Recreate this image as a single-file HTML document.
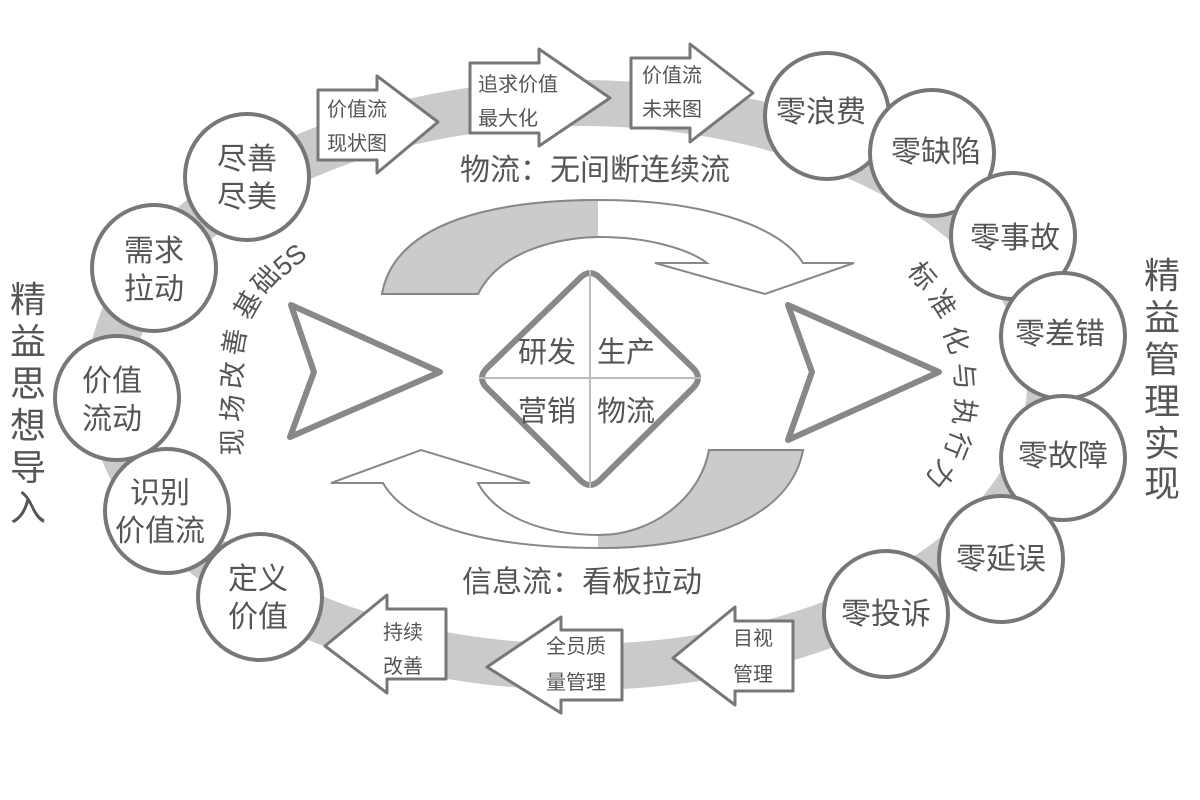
<!DOCTYPE html>
<html><head><meta charset="utf-8"><style>
body{margin:0;background:#fff}
svg{display:block}
text{font-family:"Liberation Sans","Noto Sans CJK SC",sans-serif;fill:#555}
</style></head><body>
<svg width="1200" height="800" viewBox="0 0 1200 800" xmlns="http://www.w3.org/2000/svg">
<defs>
<clipPath id="cl"><rect x="0" y="0" width="598" height="800"/></clipPath>
<clipPath id="cr"><rect x="598" y="0" width="602" height="800"/></clipPath>
</defs>
<ellipse cx="580" cy="385" rx="470" ry="282" fill="none" stroke="#cacaca" stroke-width="46"/>

<g stroke="#888" stroke-width="2">
<path d="M382,294 C395,220 500,200 600,200 C700,200 780,225 803,263 L854,263 L765,294 L655,263 L707,263 C690,250 650,237 600,237 C560,237 500,250 478,294 Z" fill="#fff"/>
<path d="M382,294 C395,220 500,200 600,200 C700,200 780,225 803,263 L854,263 L765,294 L655,263 L707,263 C690,250 650,237 600,237 C560,237 500,250 478,294 Z" fill="#cbcbcb" clip-path="url(#cl)"/>
<path d="M383,483 C410,530 500,548 600,548 C700,548 790,520 803,450 L709,450 C700,500 650,535 600,535 C540,535 495,515 478,483 L530,483 L421,450 L331,483 Z" fill="#fff"/>
<path d="M383,483 C410,530 500,548 600,548 C700,548 790,520 803,450 L709,450 C700,500 650,535 600,535 C540,535 495,515 478,483 L530,483 L421,450 L331,483 Z" fill="#cbcbcb" clip-path="url(#cr)"/>
</g>

<g fill="#fff" stroke="#888" stroke-width="6" stroke-linejoin="round">
<path d="M291,305 L440,372 L290,437 L314,372 Z"/>
<path d="M788,305 L939,372 L788,440 L812,372 Z"/>
<path d="M580,278 Q590,268 600,278 L693,368 Q703,378 693,388 L600,480 Q590,490 580,480 L487,388 Q477,378 487,368 Z"/>
</g>
<line x1="590" y1="270" x2="590" y2="488" stroke="#bbb" stroke-width="2"/>
<line x1="479" y1="378" x2="701" y2="378" stroke="#bbb" stroke-width="2"/>
<g font-size="29" text-anchor="middle">
<text x="547" y="362">研发</text><text x="626" y="362">生产</text>
<text x="547" y="421">营销</text><text x="626" y="421">物流</text>
</g>

<g fill="#fff" stroke="#777" stroke-width="3" stroke-linejoin="round">
<path d="M318,90 L377,90 L377,76 L438,122 L377,173 L377,160 L318,160 Z"/>
<path d="M470,63 L539,63 L539,49 L610,98 L539,146 L539,133 L470,133 Z"/>
<path d="M631,58 L690,58 L690,44 L753,93 L690,142 L690,128 L631,128 Z"/>
<path d="M446,609 L387,609 L387,595 L325,646 L387,693 L387,679 L446,679 Z"/>
<path d="M622,630 L561,630 L561,617 L487,667 L561,713 L561,700 L622,700 Z"/>
<path d="M793,621 L735,621 L735,607 L673,658 L735,705 L735,691 L793,691 Z"/>
</g>
<g font-size="20">
<text x="327" y="116">价值流</text><text x="327" y="150">现状图</text>
<text x="478" y="91">追求价值</text><text x="478" y="125">最大化</text>
<text x="642" y="82">价值流</text><text x="642" y="116">未来图</text>
<text x="383" y="639">持续</text><text x="383" y="673">改善</text>
<text x="546" y="653">全员质</text><text x="546" y="689">量管理</text>
<text x="733" y="645">目视</text><text x="733" y="681">管理</text>
</g>

<g fill="#fff" stroke="#777" stroke-width="4">
<ellipse cx="247" cy="177" rx="62" ry="63"/>
<ellipse cx="154" cy="268" rx="62" ry="63"/>
<ellipse cx="117" cy="398" rx="62" ry="62"/>
<ellipse cx="167" cy="511" rx="62" ry="62"/>
<ellipse cx="260" cy="597" rx="62" ry="63"/>
<ellipse cx="827" cy="116" rx="62" ry="63"/>
<ellipse cx="932" cy="153" rx="62" ry="63"/>
<ellipse cx="1013" cy="236" rx="62" ry="63"/>
<ellipse cx="1063" cy="336" rx="62" ry="63"/>
<ellipse cx="1063" cy="458" rx="62" ry="62"/>
<ellipse cx="1001" cy="559" rx="62" ry="63"/>
<ellipse cx="886" cy="614" rx="62" ry="63"/>
</g>
<g font-size="30" text-anchor="middle">
<text x="247" y="169">尽善</text><text x="247" y="207">尽美</text>
<text x="154" y="261">需求</text><text x="154" y="299">拉动</text>
<text x="112" y="391">价值</text><text x="112" y="429">流动</text>
<text x="160" y="503">识别</text><text x="160" y="541">价值流</text>
<text x="258" y="589">定义</text><text x="258" y="627">价值</text>
<text x="821" y="122">零浪费</text>
<text x="936" y="162">零缺陷</text>
<text x="1015" y="248">零事故</text>
<text x="1060" y="344">零差错</text>
<text x="1063" y="466">零故障</text>
<text x="1001" y="569">零延误</text>
<text x="886" y="624">零投诉</text>
</g>

<g font-size="30" text-anchor="middle">
<text x="595" y="180">物流：无间断连续流</text>
<text x="582" y="592">信息流：看板拉动</text>
</g>
<g font-size="36" text-anchor="middle">
<text x="28" y="312">精</text><text x="28" y="354">益</text><text x="28" y="396">思</text>
<text x="28" y="438">想</text><text x="28" y="480">导</text><text x="28" y="520">入</text>
<text x="1162" y="288">精</text><text x="1162" y="330">益</text><text x="1162" y="372">管</text>
<text x="1162" y="414">理</text><text x="1162" y="456">实</text><text x="1162" y="496">现</text>
</g>
<g font-size="27" text-anchor="middle">
<text transform="translate(233,442) rotate(-90)" y="9">现</text>
<text transform="translate(233,408) rotate(-85)" y="9">场</text>
<text transform="translate(233,375) rotate(-85)" y="9">改</text>
<text transform="translate(235,342) rotate(-80)" y="9">善</text>
<text transform="translate(248,305) rotate(-60)" y="9">基</text>
<text transform="translate(266,280) rotate(-48)" y="9">础</text>
<text transform="translate(290,260) rotate(-40)" y="9">5S</text>
<text transform="translate(922,276) rotate(50)" y="9">标</text>
<text transform="translate(942,304) rotate(58)" y="9">准</text>
<text transform="translate(956,340) rotate(70)" y="9">化</text>
<text transform="translate(964,376) rotate(85)" y="9">与</text>
<text transform="translate(964,412) rotate(98)" y="9">执</text>
<text transform="translate(957,445) rotate(112)" y="9">行</text>
<text transform="translate(940,474) rotate(128)" y="9">力</text>
</g>
</svg>
</body></html>
